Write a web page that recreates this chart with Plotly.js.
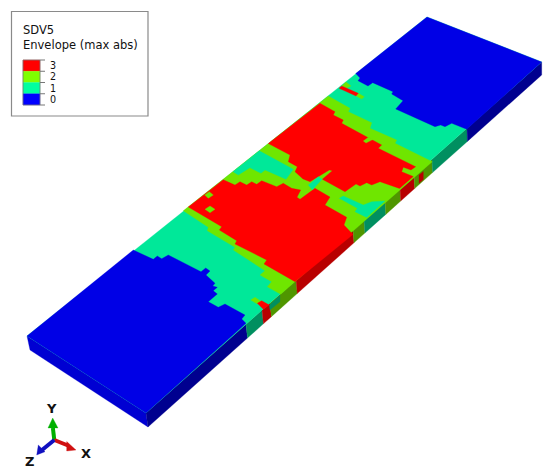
<!DOCTYPE html>
<html><head><meta charset="utf-8">
<script src="https://cdn.plot.ly/plotly-3.0.1.min.js"></script>
<style>html,body{margin:0;padding:0;background:#fff}#c{width:550px;height:472px}</style></head>
<body><div id="c"></div>
<script>
const levelTop = {0:'#0000e6',1:'#00e899',2:'#6fe600',3:'#ff0000'};
const levelSide = {0:'#00008f',1:'#008f60',2:'#4f9600',3:'#b80000'};
const legendColors = ['#ff0000','#7fff00','#00ffa0','#0000ff'];
const legendLabels = ['3','2','1','0'];
const legendTitle = ['SDV5','Envelope (max abs)'];

// Plate corners, in drawing units
const plateTop = [[27,336],[146,413],[541.7,62],[427,17]];
const plateFrontBottom = [[148,427],[541.7,75]];
const plateLeftBottom = [30,350];

// Front face: position along the front edge, and SDV5 level of each stretch
const sideStops = [146,246,262,270,296,353,364,385,400,414,432,467,541.7];
const sideLevels = [0,1,3,2,3,2,1,2,3,2,1,0];
const sidePatches = [
  [[[269.3,305],[280,295],[280,301.7],[270,310]],1],
  [[[419,175],[423.3,171.5],[423.3,179.5],[419,183.3]],3]
];

const blueLow = [[27,336],[133.3,250],[153.3,259.3],[157.3,256],[161.7,258.7],[168.3,255],[201,271.7],[205.7,268],[210,271],[206,275],[215,283.3],[212.7,286],[217.3,287.3],[213.3,290.7],[217.3,294],[208.3,301.7],[218.3,307.3],[225,304],[245,315],[241.7,319],[246,323.3],[146,413]];
const blueHigh = [[355.7,73.5],[360,78],[358,80.7],[368,86],[372.7,82.7],[393,91.7],[391.7,94],[403,100.7],[395.7,109],[435,126.7],[440.7,125],[445,126.7],[451.7,123.3],[466.7,129.3],[541.7,62],[427,17]];
const greenMid = [[183.3,210.7],[328.3,96],[350,108.3],[348.3,111.7],[371.7,122.7],[370,128.3],[396.7,140],[395,143.3],[432.3,161.7],[280.7,294.3],[267.3,286.7],[271.7,281.7],[260,275],[265,270.7],[233.3,250],[235,247.3],[207.3,230.7],[208.3,227.3]];
const redLow = [[188.3,207],[223.3,179.7],[235,185],[240,181.7],[246.7,185],[251.7,181.7],[256.7,184.3],[261.7,180.7],[276.7,186.7],[283.3,183.3],[291.7,188.3],[300.7,190],[297,197.3],[300,199.3],[315,188.3],[330,197],[325,205],[346.7,217.3],[344,225],[353,234.5],[295,281.7],[264,264],[266.7,260],[235,244],[236.7,240.7],[219.3,230],[221.7,226.7]];
const redHigh = [[268.3,143.6],[320,103.3],[335,111.7],[333.3,115],[343.3,120],[341.7,123.3],[363.3,135],[381.7,145],[378.3,148.3],[415.7,166.7],[411,170],[403.3,167.3],[401.7,171.7],[413.3,176.5],[399.5,188.5],[380,181.7],[371.7,185],[366.7,182.7],[360,186],[356,184],[345,191.7],[322.3,179.3],[332.3,170.7],[329.3,170],[310,181.7],[303,179],[295,171.7],[297.3,166.7],[288.3,161.7],[290,155]];
const tealIslands = [
  [[233,171.7],[259.3,150.8],[293.3,169.3],[286,179.3],[265,170],[261,173.3],[250,167.7],[238.3,175]],
  [[339.3,198.3],[343.3,196],[363.3,205],[371.7,201.7],[385,201],[366.7,217.5],[355,211.7],[357.3,208.3]],
  [[308.3,185],[318.3,176.7],[322.3,179],[312.3,190]]
];
const greenIslands = [
  [[204.7,195],[209.3,191.7],[213.3,195],[208.3,198.3]],
  [[205,209.3],[210,206],[215,209.3],[210,212.7]],
  [[363.3,141],[368.3,137.3],[373.3,139.3],[366,143]],
  [[250.7,300],[255,297.3],[261.7,301.7],[257.3,304]],
  [[356,96],[358.3,93.3],[364.3,96.7],[361.7,99]],
  [[341.7,86],[346,82],[351,86],[346.7,88]]
];
const redIslands = [
  [[257.3,303.3],[261.7,300.7],[269.3,305],[263.3,309.3]],
  [[339,88.3],[341.7,86],[358.3,93.3],[356,96]]
];

// Triad
const triadOrigin = [54.3,440];
const triadShafts = [[[52.9,428],'#00b000'],[[68,445.5],'#d01010'],[[42,450],'#1010c0']];
const triadHeads = [
  [[[52.7,418],[58,428],[48,428]],'#00b000'],
  [[[76,450],[66.7,441.5],[66.7,451]],'#d01010'],
  [[[36.7,455],[38.3,445],[45,451.7]],'#1010c0']
];
const triadLabels = [['Y',51,408],['X',85.7,453],['Z',29,461]];

const traces = [];
function poly(pts,color){
  traces.push({type:'scatter',mode:'lines',x:pts.concat([pts[0]]).map(p=>p[0]),y:pts.concat([pts[0]]).map(p=>p[1]),
    fill:'toself',fillcolor:color,line:{color:color,width:0.3},hoverinfo:'skip',showlegend:false});
}
function edge(a,b,t){return [a[0]+(b[0]-a[0])*t,a[1]+(b[1]-a[1])*t];}
const B=plateTop[1],C=plateTop[2],Bb=plateFrontBottom[0],Cb=plateFrontBottom[1];
// left face
poly([plateTop[0],plateTop[1],plateFrontBottom[0],plateLeftBottom],'#0000d2');
// front face
for(let i=0;i<sideLevels.length;i++){
  const t0=(sideStops[i]-B[0])/(C[0]-B[0]),t1=(sideStops[i+1]-B[0])/(C[0]-B[0]);
  poly([edge(B,C,t0),edge(B,C,t1),edge(Bb,Cb,t1),edge(Bb,Cb,t0)],levelSide[sideLevels[i]]);
}
sidePatches.forEach(p=>poly(p[0],levelSide[p[1]]));
// top face
poly(plateTop,levelTop[1]);
poly(blueLow,levelTop[0]);
poly(blueHigh,levelTop[0]);
poly(greenMid,levelTop[2]);
poly(redLow,levelTop[3]);
poly(redHigh,levelTop[3]);
tealIslands.forEach(p=>poly(p,levelTop[1]));
greenIslands.forEach(p=>poly(p,levelTop[2]));
redIslands.forEach(p=>poly(p,levelTop[3]));
// legend cells
const lx0=23,lx1=40,ly0=60,cell=11.25;
legendColors.forEach((c,i)=>{
  poly([[lx0,ly0+i*cell],[lx1,ly0+i*cell],[lx1,ly0+(i+1)*cell],[lx0,ly0+(i+1)*cell]],c);
});
// triad
triadShafts.forEach(s=>{
  traces.push({type:'scatter',mode:'lines',x:[triadOrigin[0],s[0][0]],y:[triadOrigin[1],s[0][1]],
    line:{color:s[1],width:4},hoverinfo:'skip',showlegend:false});
});
triadHeads.forEach(h=>poly(h[0],h[1]));

const annotations=[];
const textFont={family:'"DejaVu Sans",Verdana,sans-serif',size:11.5,color:'#111'};
legendTitle.forEach((t,i)=>annotations.push({x:20.5,y:30+i*15,text:t,showarrow:false,xanchor:'left',yanchor:'middle',font:textFont,xref:'x',yref:'y'}));
legendLabels.forEach((t,i)=>annotations.push({x:48,y:65.7+i*11.25,text:t,showarrow:false,xanchor:'left',yanchor:'middle',font:Object.assign({},textFont,{size:9.6}),xref:'x',yref:'y'}));
triadLabels.forEach(l=>annotations.push({x:l[1],y:l[2],text:'<b>'+l[0]+'</b>',showarrow:false,xanchor:'center',yanchor:'middle',font:{family:'"DejaVu Sans",sans-serif',size:13,color:'#111'}}));

const shapes=[{type:'rect',xref:'x',yref:'y',x0:11.5,y0:11.5,x1:148,y1:116,line:{color:'#8a8a8a',width:1.2},fillcolor:'#fff',layer:'below'}];
legendLabels.concat(['']).forEach((t,i)=>shapes.push({type:'line',xref:'x',yref:'y',x0:40,x1:45,y0:ly0+i*cell,y1:ly0+i*cell,line:{color:'#777',width:1}}));
shapes.push({type:'rect',xref:'x',yref:'y',x0:lx0,x1:lx1,y0:ly0,y1:ly0+4*cell,line:{color:'#777',width:0.8},fillcolor:'rgba(0,0,0,0)'});

Plotly.newPlot('c',traces,{
  width:550,height:472,margin:{l:0,r:0,t:0,b:0},paper_bgcolor:'#fff',plot_bgcolor:'#fff',showlegend:false,
  xaxis:{range:[0,550],visible:false,fixedrange:true},
  yaxis:{range:[472,0],visible:false,fixedrange:true},
  annotations:annotations,shapes:shapes
},{displayModeBar:false,staticPlot:true});
</script></body></html>
